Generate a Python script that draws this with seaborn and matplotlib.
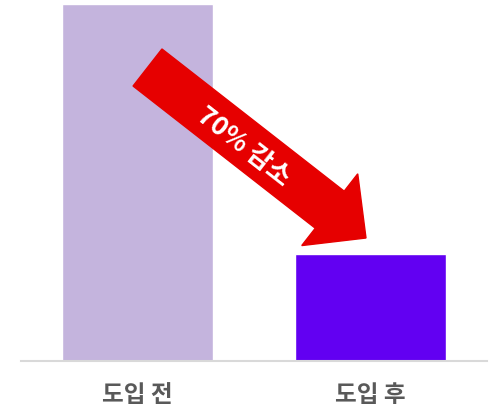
import matplotlib
matplotlib.use("Agg")
import matplotlib.pyplot as plt
from matplotlib.patches import FancyArrow
import pandas as pd
import seaborn as sns

# chart data
stages = ['도입 전', '도입 후']
values = [100, 30]
bar_colors = ['#C4B4DD', '#6200F2']
arrow_label = '70% 감소'

sns.set_theme(style="white")
plt.rcParams['font.family'] = ['Noto Sans CJK KR', 'DejaVu Sans']

df = pd.DataFrame({'stage': stages, 'value': values})

fig = plt.figure(figsize=(4.95, 4.14), dpi=100)
ax = fig.add_axes([21 / 495, 52 / 414, 466 / 495, 362 / 414])

sns.barplot(data=df, x='stage', y='value', hue='stage', palette=bar_colors,
            width=0.65, saturation=1, legend=False, ax=ax)

ax.set_xlim(-0.5, 1.5)
ax.set_ylim(0, 101.4)
ax.set_xlabel('')
ax.set_ylabel('')
ax.set_yticks([])
ax.tick_params(axis='x', length=0, pad=15)
for lbl in ax.get_xticklabels():
    lbl.set_fontsize(17)
    lbl.set_fontweight('bold')
    lbl.set_color('#595959')

for side in ['top', 'left', 'right']:
    ax.spines[side].set_visible(False)
ax.spines['bottom'].set_color('#D9D9D9')
ax.spines['bottom'].set_linewidth(1.5)

# red arrow showing the reduction (drawn in inches on the figure)
arrow = FancyArrow(1.475, 3.455, 2.185, -1.705, width=0.47, head_width=0.91,
                   head_length=0.46, length_includes_head=True,
                   color='#E60000', transform=fig.dpi_scale_trans)
fig.add_artist(arrow)
fig.text(2.44, 2.67, arrow_label, transform=fig.dpi_scale_trans,
         rotation=-38, rotation_mode='anchor', ha='center', va='center',
         fontsize=19, fontweight='bold', color='white')

fig.savefig('out.png', dpi=100)
